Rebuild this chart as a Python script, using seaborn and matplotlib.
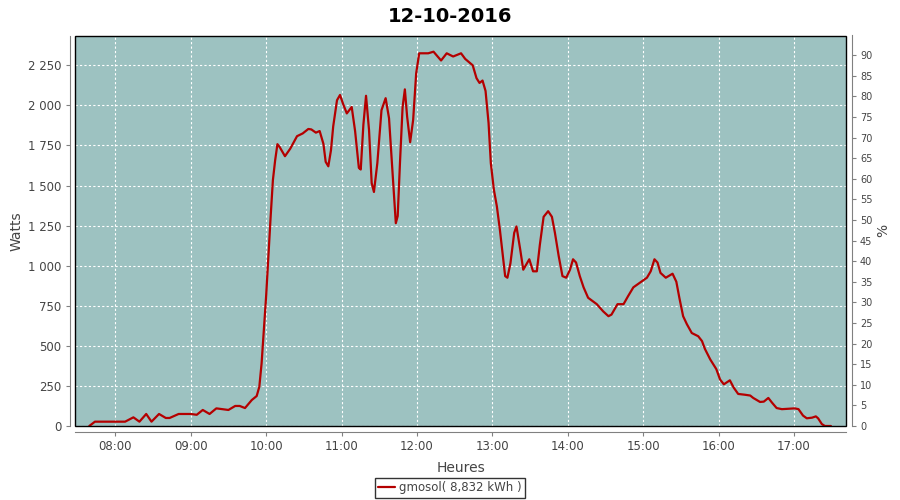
import numpy as np
import pandas as pd
import matplotlib
matplotlib.use("Agg")
import matplotlib.pyplot as plt
import seaborn as sns
from matplotlib.patches import Rectangle
from matplotlib.ticker import FuncFormatter, MultipleLocator

# hours (decimal) and power in watts
hours = [7.655, 7.73, 8.13, 8.24, 8.32, 8.41, 8.48, 8.58, 8.67, 8.72, 8.84, 9.00,
         9.08, 9.16, 9.25, 9.34, 9.50, 9.59, 9.65, 9.72, 9.81, 9.875, 9.91, 9.94,
         9.97, 10.00, 10.03, 10.06, 10.09, 10.12, 10.15, 10.18, 10.25, 10.32, 10.41,
         10.485, 10.56, 10.60, 10.66, 10.71, 10.76, 10.79, 10.825, 10.86, 10.89,
         10.94, 10.98, 11.02, 11.07, 11.135, 11.18, 11.20, 11.23, 11.255, 11.29,
         11.325, 11.365, 11.40, 11.43, 11.475, 11.53, 11.585, 11.63, 11.685, 11.72,
         11.745, 11.775, 11.81, 11.84, 11.87, 11.91, 11.95, 11.99, 12.03, 12.15,
         12.22, 12.32, 12.395, 12.48, 12.585, 12.64, 12.74, 12.79, 12.83, 12.87,
         12.91, 12.95, 12.98, 13.02, 13.06, 13.10, 13.14, 13.17, 13.20, 13.24,
         13.29, 13.32, 13.37, 13.41, 13.49, 13.54, 13.59, 13.63, 13.68, 13.74,
         13.79, 13.83, 13.88, 13.93, 13.98, 14.03, 14.07, 14.11, 14.16, 14.21,
         14.27, 14.385, 14.47, 14.54, 14.58, 14.66, 14.74, 14.80, 14.87, 14.96,
         15.05, 15.10, 15.15, 15.19, 15.23, 15.30, 15.39, 15.44, 15.48, 15.53,
         15.58, 15.645, 15.73, 15.78, 15.82, 15.89, 15.97, 16.02, 16.07, 16.15,
         16.20, 16.26, 16.35, 16.42, 16.46, 16.55, 16.60, 16.66, 16.71, 16.77,
         16.84, 17.01, 17.06, 17.12, 17.17, 17.24, 17.29, 17.32, 17.37, 17.41, 17.49]
watts = [0, 27, 27, 54, 27, 75, 27, 75, 50, 50, 75, 75,
         70, 100, 75, 110, 100, 125, 125, 112, 162, 187, 245, 390,
         600, 808, 1055, 1305, 1534, 1658, 1758, 1740, 1683, 1730, 1808,
         1825, 1853, 1850, 1830, 1840, 1760, 1648, 1620, 1720, 1870,
         2032, 2065, 2010, 1950, 1990, 1840, 1750, 1610, 1600, 1880,
         2060, 1845, 1515, 1460, 1640, 1970, 2045, 1920, 1520, 1265,
         1310, 1640, 1990, 2100, 1930, 1770, 1910, 2200, 2325, 2325,
         2335, 2280, 2325, 2305, 2325, 2290, 2250, 2170, 2140, 2155,
         2090, 1890, 1640, 1475, 1370, 1225, 1060, 935, 925, 1015,
         1205, 1245, 1100, 975, 1040, 965, 965, 1130, 1305, 1340,
         1305, 1205, 1060, 935, 925, 975, 1040, 1020, 935, 865,
         800, 760, 715, 685, 695, 760, 760, 810, 865, 895,
         925, 965, 1040, 1020, 955, 925, 950, 900, 800, 685,
         635, 580, 560, 530, 480, 415, 355, 290, 260, 285,
         240, 200, 195, 190, 175, 150, 152, 175, 145, 112,
         105, 110, 105, 65, 48, 52, 60, 48, 12, 0, 0]

series_label = "gmosol( 8,832 kWh )"
title = "12-10-2016"
peak_watts = 2570  # 100 % on the right axis

df = pd.DataFrame({"heure": hours, "watts": watts})

sns.set_style("white")
plt.rcParams["font.family"] = ["DejaVu Sans"]

fig = plt.figure(figsize=(9, 5), dpi=100)
ax = fig.add_axes([0.0837, 0.148, 0.8563, 0.781])
ax.set_facecolor("#9dc2c1")

sns.lineplot(data=df, x="heure", y="watts", ax=ax, color="#b40000",
             linewidth=1.6, sort=False, label=series_label, legend=False)

xmin, xmax = 7.47, 17.69
ymax = 2436
ax.set_xlim(xmin, xmax)
ax.set_ylim(0, ymax)

ax.set_xticks(range(8, 18))
ax.set_xticklabels([f"{h:02d}:00" for h in range(8, 18)])
ax.yaxis.set_major_locator(MultipleLocator(250))
ax.yaxis.set_major_formatter(FuncFormatter(lambda v, p: f"{v:,.0f}".replace(",", " ")))

ax.grid(True, color="white", linestyle=(0, (2, 2)), linewidth=0.8)
ax.set_axisbelow(True)

grey = "#808080"
for side in ["left", "bottom"]:
    ax.spines[side].set_position(("outward", 4))
    ax.spines[side].set_color(grey)
ax.spines["top"].set_visible(False)
ax.spines["right"].set_visible(False)
ax.tick_params(axis="both", which="major", length=3, color=grey, labelsize=8.5,
               labelcolor="#444444", pad=3, direction="out")
ax.tick_params(axis="x", bottom=True)
ax.tick_params(axis="y", left=True)

ax.add_patch(Rectangle((0, 0), 1, 1, transform=ax.transAxes, fill=False,
                       edgecolor="black", linewidth=1.0, clip_on=False, zorder=5))

ax.set_xlabel("Heures", fontsize=10, color="#444444", labelpad=6)
ax.set_ylabel("Watts", fontsize=10, color="#444444", labelpad=3)

ax2 = ax.twinx()
ax2.set_ylim(0, ymax / peak_watts * 100)
ax2.yaxis.set_major_locator(MultipleLocator(5))
ax2.spines["right"].set_position(("outward", 4))
ax2.spines["right"].set_color(grey)
for side in ["left", "top", "bottom"]:
    ax2.spines[side].set_visible(False)
ax2.tick_params(axis="y", length=3, color=grey, labelsize=7, labelcolor="#444444",
                pad=3, right=True, direction="out")
ax2.set_ylabel("%", fontsize=10, color="#444444", labelpad=3)

fig.suptitle(title, fontsize=14, fontweight="bold", color="black", y=0.985)

handles, labels = ax.get_legend_handles_labels()
leg = fig.legend(handles, labels, loc="lower center", bbox_to_anchor=(0.5, 0.0),
                 frameon=True, fancybox=False, fontsize=8.5, handlelength=1.4,
                 handletextpad=0.4, borderpad=0.3, borderaxespad=0.2)
leg.get_frame().set_edgecolor("black")
leg.get_frame().set_linewidth(1.0)
for t in leg.get_texts():
    t.set_color("#444444")

fig.savefig("out.png", dpi=100)
